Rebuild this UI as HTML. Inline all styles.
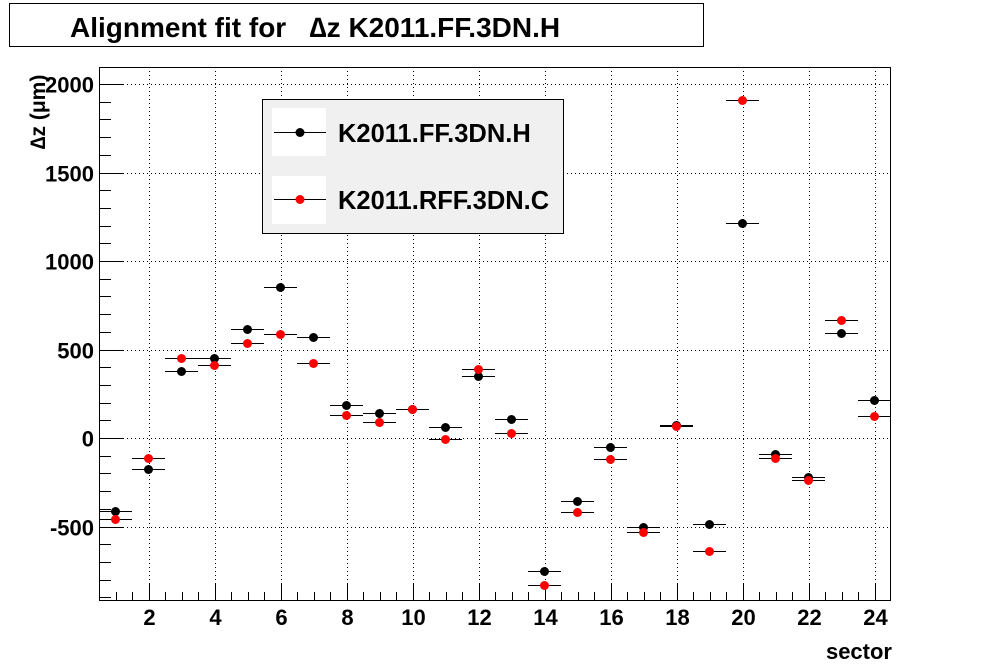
<!DOCTYPE html>
<html><head><meta charset="utf-8"><style>
body{margin:0;background:#fff;}
svg{display:block;font-family:"Liberation Sans",sans-serif;font-weight:bold;}
</style></head><body>
<svg id="c" width="991" height="667">
<rect x="9.5" y="3.5" width="694" height="43" fill="#fff" stroke="#000"/>
<text x="70" y="37" font-size="28">Alignment fit for&#160;&#160;&#160;∆z K2011.FF.3DN.H</text>
<g id="grid"></g>
<g id="axes"></g>
<g id="marks"></g>
<rect x="99.5" y="67.5" width="791" height="533" fill="none" stroke="#000"/>
<text x="892" y="659" font-size="22" text-anchor="end">sector</text>
<text transform="translate(45,112) rotate(-90)" font-size="21" text-anchor="middle">∆z (μm)</text>
<g>
<rect x="262.5" y="99.5" width="301" height="134" fill="#f0f0f0" stroke="#000"/>
<rect x="272" y="108" width="54" height="48" fill="#fff"/>
<rect x="272" y="176" width="54" height="48" fill="#fff"/>
<line x1="274" x2="326" y1="132.5" y2="132.5" stroke="#000"/><circle cx="300" cy="132.5" r="4.5" fill="#000"/>
<line x1="274" x2="326" y1="199.5" y2="199.5" stroke="#000"/><circle cx="300" cy="199.5" r="4.5" fill="#f00"/>
<text x="338" y="142" font-size="25.5">K2011.FF.3DN.H</text>
<text x="338" y="209" font-size="25.5">K2011.RFF.3DN.C</text>
</g>
</svg>
<script>
const sectors=[1,2,3,4,5,6,7,8,9,10,11,12,13,14,15,16,17,18,19,20,21,22,23,24];
const seriesFF=[-412,-175,379,452,616,853,571,186,141,164,62,350,107,-751,-356,-51,-503,73,-486,1215,-90,-220,593,215];
const seriesRFF=[-458,-113,452,412,537,588,424,130,90,164,-6,390,28,-830,-418,-119,-531,68,-638,1910,-113,-237,667,124];
const xTicks=[2,4,6,8,10,12,14,16,18,20,22,24];
const yTicks=[-500,0,500,1000,1500,2000];
const X0=99,X1=891,Y0=600,Y1=67,XMIN=0.5,XMAX=24.5,YMIN=-915,YMAX=2096;
const sx=v=>X0+(v-XMIN)/(XMAX-XMIN)*(X1-X0);
const sy=v=>Y0-(v-YMIN)/(YMAX-YMIN)*(Y0-Y1);
const NS='http://www.w3.org/2000/svg';
function mk(t,a,p){const e=document.createElementNS(NS,t);for(const k in a)e.setAttribute(k,a[k]);p.appendChild(e);return e;}
const grid=document.getElementById('grid'),axes=document.getElementById('axes'),marks=document.getElementById('marks');
xTicks.forEach(t=>{const x=Math.round(sx(t))+0.5;
 const g=mk('line',{x1:x,x2:x,y1:Y1,y2:Y0,stroke:'#000','stroke-dasharray':'1,3'},grid);
 
 
 const l=mk('text',{x:x,y:625,'font-size':22,'text-anchor':'middle'},axes);l.textContent=t;
 
 });
for(let v=1;v<=48;v++){const t=v/2;if(t<XMIN||t>XMAX)continue;const x=Math.round(sx(t))+0.5;const len=(t%2===0)?17:8;
 mk('line',{x1:x,x2:x,y1:Y0,y2:Y0-len,stroke:'#000'},axes);}
for(let v=-900;v<=2000;v+=100){const y=Math.round(sy(v))+0.5;const len=(v%500===0)?24:12;
 mk('line',{x1:X0,x2:X0+len,y1:y,y2:y,stroke:'#000'},axes);}
yTicks.forEach(t=>{const y=Math.round(sy(t))+0.5;
 const g=mk('line',{x1:X0,x2:X1,y1:y,y2:y,stroke:'#000','stroke-dasharray':'1,3'},grid);
 
 
 const l=mk('text',{x:94,y:y+8,'font-size':22,'text-anchor':'end'},axes);l.textContent=t;
 
 });
function series(vals,col,name){vals.forEach((v,i)=>{const s=sectors[i];const y=Math.round(sy(v))+0.5;
 const ln=mk('line',{x1:sx(s-0.5),x2:sx(s+0.5),y1:y,y2:y,stroke:'#000'},marks);
 
 
 const c=mk('circle',{cx:sx(s),cy:y,r:4.5,fill:col},marks);
 
 });}
series(seriesFF,'#000','ff');
series(seriesRFF,'#f00','rff');
</script>
</body></html>
